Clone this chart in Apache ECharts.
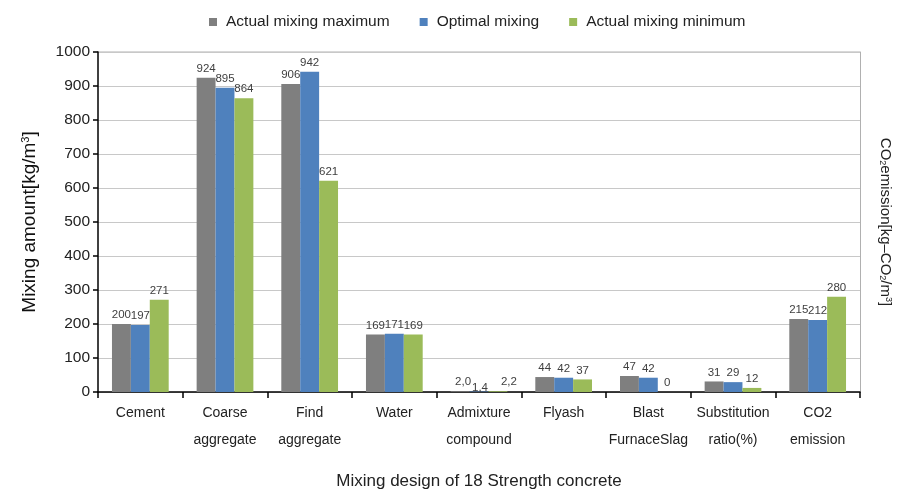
<!DOCTYPE html>
<html>
<head>
<meta charset="utf-8">
<script src="https://cdn.jsdelivr.net/npm/echarts@6/dist/echarts.min.js"></script>
<style>
  html, body { margin: 0; padding: 0; background: #fff; }
  #chart { width: 898px; height: 494px; }
</style>
</head>
<body>
<div id="chart"></div>
<script>
// Mix design components (x axis)
const categories = [
  'Cement', 'Coarse\naggregate', 'Find\naggregate', 'Water',
  'Admixture\ncompound', 'Flyash', 'Blast\nFurnaceSlag',
  'Substitution\nratio(%)', 'CO2\nemission'
];

// Series values
const actualMax = [200, 924, 906, 169, 2.0, 44, 47, 31, 215];
const optimal   = [197, 895, 942, 171, 1.4, 42, 42, 29, 212];
const actualMin = [271, 864, 621, 169, 2.2, 37, 0, 12, 280];

const seriesNames = ['Actual mixing maximum', 'Optimal mixing', 'Actual mixing minimum'];
const seriesColors = ['#7f7f7f', '#4f81bd', '#9bbb59'];

// Admixture values are printed with one decimal and a comma separator
function fmt(p) {
  const v = p.value;
  if (p.dataIndex === 4) return v.toFixed(1).replace('.', ',');
  return String(v);
}

function makeSeries(name, values, color, idx) {
  return {
    name: name,
    type: 'bar',
    data: values.map((v, i) => {
      const item = { value: v };
      if (i === 4 && idx === 0) item.label = { offset: [3, 0] };
      if (i === 4 && idx === 1) item.label = { offset: [1, 5] };
      if (i === 4 && idx === 2) item.label = { offset: [11, 0] };
      return item;
    }),
    itemStyle: { color: color },
    barGap: '0%',
    barCategoryGap: '33%',
    label: {
      show: true,
      position: 'top',
      distance: 3,
      formatter: fmt,
      fontFamily: 'Liberation Sans, Arial, sans-serif',
      fontSize: 11.5,
      color: '#404040'
    }
  };
}

const chart = echarts.init(document.getElementById('chart'));
chart.setOption({
  animation: false,
  textStyle: { fontFamily: 'Liberation Sans, Arial, sans-serif' },
  legend: {
    top: 9,
    left: 204,
    itemWidth: 8,
    itemHeight: 8,
    itemGap: 30,
    icon: 'rect',
    textStyle: { fontSize: 15.5, color: '#222', padding: [0, 0, 0, 4] },
    data: seriesNames
  },
  grid: { left: 98, right: 38, top: 52, bottom: 102, outerBoundsMode: 'none', containLabel: false },
  xAxis: {
    type: 'category',
    data: categories,
    name: 'Mixing design of 18 Strength concrete',
    nameLocation: 'middle',
    nameGap: 81,
    nameTextStyle: { fontSize: 17, color: '#222' },
    axisLine: { lineStyle: { color: '#000', width: 1.5 } },
    axisTick: { show: true, length: 6, lineStyle: { color: '#000', width: 1.5 } },
    axisLabel: { fontSize: 14, color: '#222', lineHeight: 27, margin: 8, interval: 0 }
  },
  yAxis: [
    {
      type: 'value',
      min: 0,
      max: 1000,
      interval: 100,
      name: 'Mixing amount[kg/m{sup|3}]',
      nameLocation: 'middle',
      nameGap: 59,
      nameTextStyle: {
        fontSize: 19,
        color: '#111',
        rich: { sup: { fontSize: 11, color: '#111', verticalAlign: 'top', padding: [0, 0, 8, 0] } }
      },
      axisLine: { show: true, lineStyle: { color: '#000', width: 1.5 } },
      axisTick: { show: true, length: 5, lineStyle: { color: '#000', width: 1.5 } },
      axisLabel: { fontSize: 15.5, color: '#222', margin: 8, formatter: v => String(v) },
      splitLine: { lineStyle: { color: '#c8c8c8', width: 1 } }
    },
    {
      type: 'value',
      position: 'right',
      min: 0,
      max: 1000,
      interval: 100,
      name: 'CO{sub|2}emission[kg\u2013CO{sub|2}/m{sup|3}]',
      nameLocation: 'middle',
      nameRotate: -90,
      nameGap: 18,
      nameTextStyle: {
        fontSize: 15,
        color: '#222',
        rich: {
          sub: { fontSize: 9, color: '#222', verticalAlign: 'bottom', padding: [6, 0, 0, 0] },
          sup: { fontSize: 9, color: '#222', verticalAlign: 'top', padding: [0, 0, 6, 0] }
        }
      },
      axisLine: { show: true, lineStyle: { color: '#b0b0b0', width: 1 } },
      axisTick: { show: false },
      axisLabel: { show: false },
      splitLine: { show: false }
    }
  ],
  series: [
    makeSeries(seriesNames[0], actualMax, seriesColors[0], 0),
    makeSeries(seriesNames[1], optimal, seriesColors[1], 1),
    makeSeries(seriesNames[2], actualMin, seriesColors[2], 2)
  ],
  graphic: [
    {
      // top border of the plot area
      type: 'line',
      shape: { x1: 98, y1: 52, x2: 860, y2: 52 },
      style: { stroke: '#b0b0b0', lineWidth: 1 }
    }
  ]
});
</script>
</body>
</html>
